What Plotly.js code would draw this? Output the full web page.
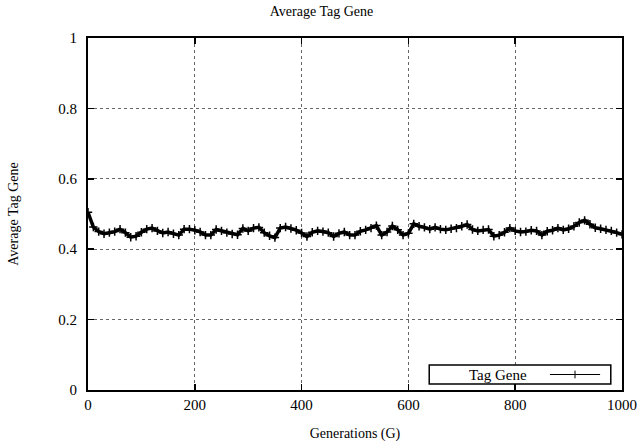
<!DOCTYPE html>
<html>
<head>
<meta charset="utf-8">
<script src="https://cdn.plot.ly/plotly-3.0.1.min.js"></script>
<style>html,body{margin:0;padding:0;background:#fff;}#chart{width:643px;height:447px;}</style>
</head>
<body>
<div id="chart"></div>
<script>
const generations = [0,10,20,30,40,50,60,70,80,90,100,110,120,130,140,150,160,170,180,190,200,210,220,230,240,250,260,270,280,290,300,310,320,330,340,350,360,370,380,390,400,410,420,430,440,450,460,470,480,490,500,510,520,530,540,550,560,570,580,590,600,610,620,630,640,650,660,670,680,690,700,710,720,730,740,750,760,770,780,790,800,810,820,830,840,850,860,870,880,890,900,910,920,930,940,950,960,970,980,990,1000];
const tagGene = [0.505,0.463,0.450,0.444,0.447,0.450,0.457,0.447,0.434,0.437,0.448,0.457,0.460,0.452,0.446,0.449,0.444,0.440,0.457,0.457,0.454,0.449,0.440,0.440,0.456,0.452,0.447,0.443,0.441,0.459,0.452,0.460,0.462,0.447,0.438,0.433,0.460,0.463,0.459,0.454,0.446,0.436,0.448,0.452,0.450,0.447,0.436,0.445,0.449,0.440,0.440,0.451,0.455,0.460,0.467,0.440,0.449,0.466,0.455,0.440,0.445,0.472,0.465,0.462,0.457,0.462,0.457,0.455,0.458,0.460,0.465,0.470,0.456,0.452,0.455,0.456,0.437,0.440,0.448,0.460,0.452,0.449,0.450,0.454,0.452,0.440,0.451,0.454,0.460,0.455,0.458,0.465,0.476,0.482,0.471,0.461,0.458,0.455,0.452,0.447,0.442];
const seriesName = "Tag Gene";
const xTicks = [0,200,400,600,800,1000];
const yTicks = [0,0.2,0.4,0.6,0.8,1];
const yTickText = ["0","0.2","0.4","0.6","0.8","1"];

const fam = "Liberation Serif";
const font = {family: fam, size: 15, color: "#000"};

const trace = {
  x: generations, y: tagGene, type: "scatter", mode: "lines+markers",
  name: seriesName,
  line: {color: "#000", width: 3.5},
  marker: {symbol: "cross-thin-open", size: 6, color: "#000", line: {color: "#000", width: 1.5}},
  showlegend: false, hoverinfo: "skip"
};

const axisCommon = {
  showline: true, linecolor: "#000", linewidth: 2, mirror: "allticks",
  ticks: "inside", ticklen: 6, tickwidth: 1.5, tickcolor: "#000",
  showgrid: true, gridcolor: "#666", gridwidth: 1, griddash: "dot",
  zeroline: false, tickfont: font
};

const layout = {
  width: 643, height: 447,
  margin: {l: 88, r: 21, t: 38, b: 57},
  paper_bgcolor: "#fff", plot_bgcolor: "#fff",
  font: font,
  title: {text: "Average Tag Gene", font: {family: fam, size: 14, color: "#000"}, x: 0.5, xanchor: "center", y: 0.975, yanchor: "middle"},
  xaxis: Object.assign({}, axisCommon, {
    range: [0, 1000], tickvals: xTicks, ticktext: xTicks.map(String),
    title: {text: "Generations (G)", font: {family: fam, size: 14, color: "#000"}, standoff: 16}
  }),
  yaxis: Object.assign({}, axisCommon, {
    range: [0, 1], tickvals: yTicks, ticktext: yTickText, ticklabelstandoff: 6,
    title: {text: "Average Tag Gene", font: {family: fam, size: 14, color: "#000"}, standoff: 36}
  }),
  shapes: [
    {type: "rect", xref: "paper", yref: "paper", x0: 0.639, x1: 0.979, y0: 0.017, y1: 0.071, line: {color: "#000", width: 1.5}, fillcolor: "#fff", layer: "above"},
    {type: "line", xref: "paper", yref: "paper", x0: 0.865, x1: 0.959, y0: 0.044, y1: 0.044, line: {color: "#000", width: 1}},
    {type: "line", xref: "paper", yref: "paper", x0: 0.912, x1: 0.912, y0: 0.033, y1: 0.055, line: {color: "#000", width: 1}}
  ],
  annotations: [
    {xref: "paper", yref: "paper", x: 0.768, y: 0.044, text: seriesName, showarrow: false, xanchor: "center", yanchor: "middle", font: font}
  ]
};

Plotly.newPlot("chart", [trace], layout, {staticPlot: true, displayModeBar: false});
</script>
</body>
</html>
